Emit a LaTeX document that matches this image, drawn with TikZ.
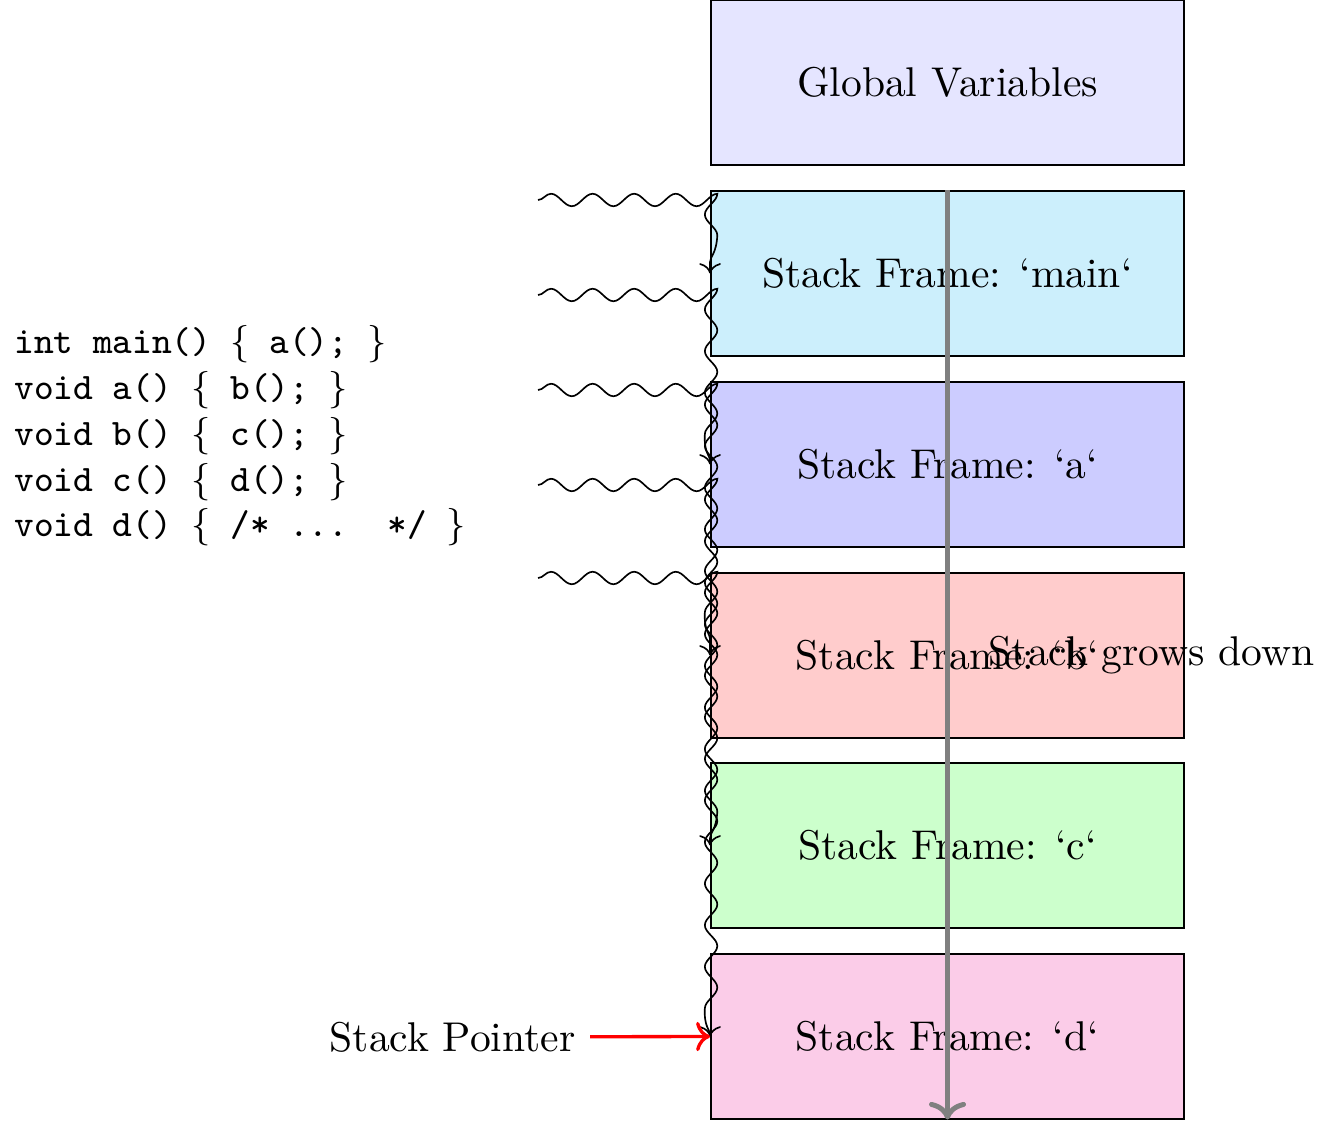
\documentclass[tikz,border=0pt]{standalone}
\usetikzlibrary{decorations.pathmorphing,arrows.meta}
\begin{document}
\begin{tikzpicture}[x=0.0084567cm,y=-0.0084567cm,
  >={To},
  frame/.style={draw, minimum width=4cm, minimum height=1.39cm, inner sep=0pt},
  wavy/.style={->, decorate, decoration={snake, amplitude=1.5pt}},
  lbl/.style={font=\normalsize}]
\useasboundingbox (0,0) rectangle (1327,1123);
\node[frame, fill=blue!10] (glob) at (947.5,82.5) {Global Variables};
\node[frame, fill=cyan!20] (main) at (947.5,273.5) {Stack Frame: `main`};
\node[frame, fill=blue!20] (fa) at (947.5,464.5) {Stack Frame: `a`};
\node[frame, fill=red!20] (fb) at (947.5,655.5) {Stack Frame: `b`};
\node[frame, fill=green!20] (fc) at (947.5,845.5) {Stack Frame: `c`};
\node[frame, fill=magenta!20] (fd) at (947.5,1036.5) {Stack Frame: `d`};
\node[anchor=west, align=left, font=\small\ttfamily] (code) at (0,436) {%
int main() $\{$ a(); $\}$\\
void a() $\{$ b(); $\}$\\
void b() $\{$ c(); $\}$\\
void c() $\{$ d(); $\}$\\
void d() $\{$ /* ...\ \ */ $\}$};
\coordinate (s1) at (538,200);
\coordinate (s2) at (538,295);
\coordinate (s3) at (538,390);
\coordinate (s4) at (538,485);
\coordinate (s5) at (538,578);
\draw[wavy] (s1) -| (main.west);
\draw[wavy] (s2) -| (fa.west);
\draw[wavy] (s3) -| (fb.west);
\draw[wavy] (s4) -| (fc.west);
\draw[wavy] (s5) -| (fd.west);
\draw[->, gray, very thick] (main.north) -- (fd.south);
\node[anchor=west] (grow) at (974,655) {Stack grows down};
\node[anchor=east] (sp) at (590,1037) {Stack Pointer};
\draw[->, red, thick] (sp) -- (fd.west);
\end{tikzpicture}
\end{document}
